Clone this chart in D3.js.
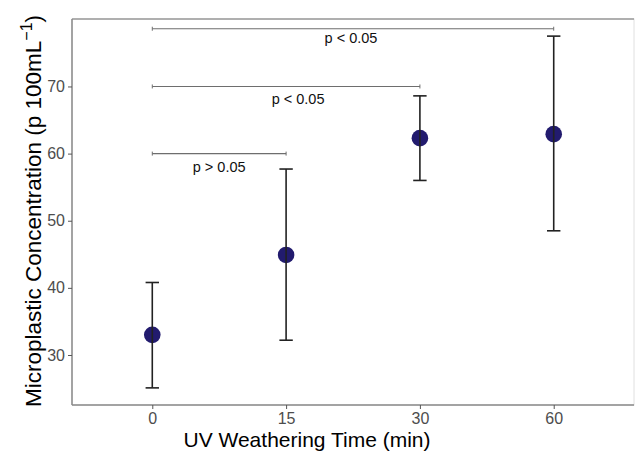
<!DOCTYPE html>
<html lang="en">
<head>
  <meta charset="UTF-8">
  <title>UV weathering</title>
  <script src="https://cdn.jsdelivr.net/npm/d3@7"></script>
  <style>
    body { margin: 0; background: #fff; }
    svg { font-family: "Liberation Sans", Arial, sans-serif; }
  </style>
</head>
<body>
  <div id="container"></div>
  <script>
    // data
    var times = ['0', '15', '30', '60'];
    var means = [33.0, 44.9, 62.3, 62.9];
    var lows = [25.1, 32.2, 56.0, 48.5];
    var highs = [40.8, 57.7, 68.6, 77.5];
    var yTicks = [30, 40, 50, 60, 70];

    // pairwise comparisons against 0 min
    var cmpFrom = ['0', '0', '0'];
    var cmpTo = ['15', '30', '60'];
    var cmpY = [60, 70, 78.6];
    var cmpText = ['p > 0.05', 'p < 0.05', 'p < 0.05'];

    const width = 635, height = 452;
    const pLeft = 72, pRight = 634, pTop = 19, pBottom = 405;

    var svg = d3.select('#container').append('svg')
      .attr('width', width).attr('height', height);

    var x = d3.scalePoint().domain(times).range([pLeft, pRight]).padding(0.6);
    var y = d3.scaleLinear().domain([22.55, 80.05]).range([pBottom, pTop]);

    // panel border
    svg.append('rect')
      .attr('x', pLeft).attr('y', pTop)
      .attr('width', pRight - pLeft).attr('height', pBottom - pTop)
      .attr('fill', 'none').attr('stroke', '#e0e0e0').attr('stroke-width', 1);
    svg.append('line').attr('x1', pLeft).attr('x2', pRight)
      .attr('y1', pTop).attr('y2', pTop)
      .attr('stroke', '#9a9a9a').attr('stroke-width', 1.5);

    // axes
    var yAxis = svg.append('g')
      .attr('transform', 'translate(' + pLeft + ',0)')
      .call(d3.axisLeft(y).tickValues(yTicks).tickSize(4).tickPadding(3));
    var xAxis = svg.append('g')
      .attr('transform', 'translate(0,' + pBottom + ')')
      .call(d3.axisBottom(x).tickSize(4).tickPadding(4));
    [xAxis, yAxis].forEach(function (g) {
      g.select('.domain').attr('stroke', '#8a8a8a').attr('stroke-width', 1.5);
      g.selectAll('.tick line').attr('stroke', '#555');
      g.selectAll('.tick text').attr('fill', '#4d4d4d')
        .style('font-size', '16px').style('font-family', '"Liberation Sans", Arial, sans-serif');
    });
    xAxis.select('.domain').attr('d', 'M' + pLeft + ',0H' + pRight);
    yAxis.select('.domain').attr('d', 'M0,' + pTop + 'V' + pBottom);

    // comparison brackets
    var cmp = svg.append('g').selectAll('g')
      .data(cmpText).enter().append('g');
    cmp.append('line')
      .attr('x1', function (d, i) { return x(cmpFrom[i]); })
      .attr('x2', function (d, i) { return x(cmpTo[i]); })
      .attr('y1', function (d, i) { return y(cmpY[i]); })
      .attr('y2', function (d, i) { return y(cmpY[i]); })
      .attr('stroke', '#6e6e6e').attr('stroke-width', 1.1);
    ['from', 'to'].forEach(function (end) {
      cmp.append('line')
        .attr('x1', function (d, i) { return x(end == 'from' ? cmpFrom[i] : cmpTo[i]); })
        .attr('x2', function (d, i) { return x(end == 'from' ? cmpFrom[i] : cmpTo[i]); })
        .attr('y1', function (d, i) { return y(cmpY[i]) - 2; })
        .attr('y2', function (d, i) { return y(cmpY[i]) + 2; })
        .attr('stroke', '#6e6e6e').attr('stroke-width', 1);
    });
    var labelShift = [0, 12, -2];
    var labelDrop = [18, 18, 14];
    cmp.append('text')
      .attr('x', function (d, i) { return (x(cmpFrom[i]) + x(cmpTo[i])) / 2 + labelShift[i]; })
      .attr('y', function (d, i) { return y(cmpY[i]) + labelDrop[i]; })
      .attr('text-anchor', 'middle')
      .style('font-size', '14.5px').attr('fill', '#111')
      .text(function (d) { return d; });

    // points
    svg.append('g').selectAll('circle')
      .data(means).enter().append('circle')
      .attr('cx', function (d, i) { return x(times[i]); })
      .attr('cy', function (d) { return y(d); })
      .attr('r', 8.3)
      .attr('fill', '#221b6e');

    // error bars
    var eb = svg.append('g').attr('stroke', '#222').attr('stroke-width', 1.6);
    eb.selectAll('.v').data(means).enter().append('line')
      .attr('x1', function (d, i) { return x(times[i]); })
      .attr('x2', function (d, i) { return x(times[i]); })
      .attr('y1', function (d, i) { return y(lows[i]); })
      .attr('y2', function (d, i) { return y(highs[i]); });
    [lows, highs].forEach(function (arr) {
      eb.selectAll(null).data(arr).enter().append('line')
        .attr('x1', function (d, i) { return x(times[i]) - 6.7; })
        .attr('x2', function (d, i) { return x(times[i]) + 6.7; })
        .attr('y1', function (d) { return y(d); })
        .attr('y2', function (d) { return y(d); });
    });

    // axis titles
    svg.append('text')
      .attr('x', 307).attr('y', 447)
      .attr('text-anchor', 'middle')
      .style('font-size', '21px').attr('fill', '#000')
      .text('UV Weathering Time (min)');
    var yt = svg.append('text')
      .attr('transform', 'translate(41,' + ((pTop + pBottom) / 2 - 1) + ') rotate(-90)')
      .attr('text-anchor', 'middle')
      .style('font-size', '22.5px').attr('fill', '#000');
    yt.append('tspan').text('Microplastic Concentration (p 100mL');
    yt.append('tspan').attr('dy', -9).style('font-size', '16px').text('\u22121');
    yt.append('tspan').attr('dy', 9).text(')');
  </script>
</body>
</html>
